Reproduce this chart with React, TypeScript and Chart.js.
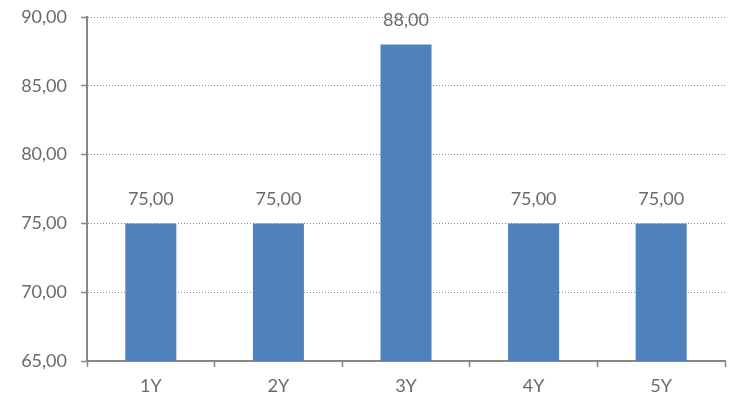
import React, { useEffect, useRef } from "react";
import { Chart, registerables } from "chart.js";

Chart.register(...registerables);

const categories = ["1Y", "2Y", "3Y", "4Y", "5Y"];
const values = [75, 75, 88, 75, 75];
const yMin = 65;
const yMax = 90;
const yStep = 5;

const fmt = (v: number) => v.toFixed(2).replace(".", ",");

const FONT = "Lato, 'Open Sans', sans-serif";
const TEXT = "#6a6a6a";
const AXIS = "#878787";

const valueLabels = {
  id: "valueLabels",
  afterDatasetsDraw(chart: any) {
    const { ctx } = chart;
    const meta = chart.getDatasetMeta(0);
    ctx.save();
    ctx.font = `18px ${FONT}`;
    ctx.fillStyle = TEXT;
    ctx.textAlign = "center";
    ctx.textBaseline = "middle";
    meta.data.forEach((bar: any, i: number) => {
      ctx.fillText(fmt(values[i]), bar.x, bar.y - 24);
    });
    ctx.restore();
  },
};

export default function App() {
  const ref = useRef<HTMLCanvasElement>(null);

  useEffect(() => {
    if (!ref.current) return;
    const chart = new Chart(ref.current, {
      type: "bar",
      data: {
        labels: categories,
        datasets: [
          {
            data: values,
            backgroundColor: "#4f81bd",
            borderWidth: 0,
            barPercentage: 0.4,
            categoryPercentage: 1,
          },
        ],
      },
      options: {
        animation: false,
        responsive: false,
        maintainAspectRatio: false,
        layout: { padding: { top: 17, right: 17, left: 0, bottom: 0 } },
        plugins: {
          legend: { display: false },
          tooltip: { enabled: false },
        },
        scales: {
          x: {
            offset: true,
            grid: {
              offset: true,
              drawOnChartArea: false,
              drawTicks: true,
              tickLength: 6,
              tickColor: AXIS,
              tickWidth: 1.5,
            },
            border: { display: true, color: AXIS, width: 2 },
            ticks: {
              color: TEXT,
              font: { family: FONT, size: 18 },
              padding: 8,
            },
            afterFit: (s: any) => {
              s.height = 37;
              s.paddingLeft = 0;
              s.paddingRight = 0;
            },
          },
          y: {
            min: yMin,
            max: yMax,
            ticks: {
              stepSize: yStep,
              color: TEXT,
              font: { family: FONT, size: 18 },
              padding: 14,
              callback: (v: any) => fmt(Number(v)),
            },
            grid: {
              color: "#8c8c8c",
              lineWidth: 1,
              drawTicks: true,
              tickLength: 6,
              tickColor: AXIS,
              tickWidth: 1.5,
            },
            border: { display: true, color: AXIS, width: 2, dash: [1, 2] },
            afterFit: (s: any) => {
              s.width = 87;
              s.paddingTop = 0;
              s.paddingBottom = 0;
            },
          },
        },
      },
      plugins: [valueLabels],
    });
    return () => chart.destroy();
  }, []);

  return (
    <div style={{ position: "fixed", left: 0, top: 0, width: 742, height: 398, background: "#fff" }}>
      <canvas ref={ref} width={742} height={398} />
    </div>
  );
}
